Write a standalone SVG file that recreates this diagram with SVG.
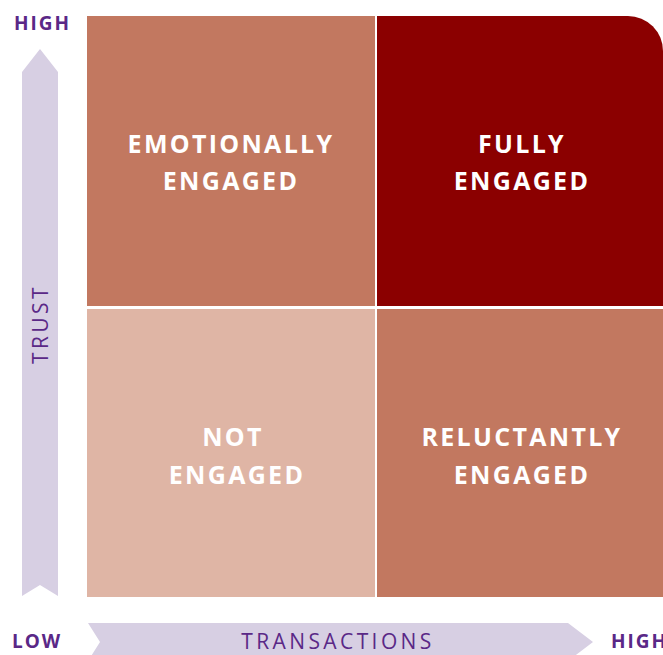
<svg xmlns="http://www.w3.org/2000/svg" width="663" height="655" viewBox="0 0 663 655">
  <style>
    .axis { fill: #d7cfe3; }
    .end { font-family: "Open Sans", "Liberation Sans", sans-serif; font-weight: 700; font-size: 19px; fill: #5a2887; letter-spacing: 2px; }
    .axislabel { font-family: "Open Sans", "Liberation Sans", sans-serif; font-weight: 400; font-size: 21px; fill: #5a2887; letter-spacing: 3.4px; text-anchor: middle; }
    .quad { font-family: "Open Sans", "Liberation Sans", sans-serif; font-weight: 700; font-size: 25px; fill: #ffffff; text-anchor: middle; letter-spacing: 2.3px; }
  </style>

  <!-- axis arrows -->
  <g id="trust-axis">
    <polygon class="axis" points="22,72 40,49 58,72 58,596 40,585 22,596"/>
    <text class="axislabel" transform="translate(48,324) rotate(-90)">TRUST</text>
  </g>
  <g id="transactions-axis">
    <polygon class="axis" points="88,623 568,623 593,642 568,661 88,661 100,642"/>
    <text class="axislabel" x="338" y="649">TRANSACTIONS</text>
  </g>

  <!-- axis end labels -->
  <text class="end" x="14" y="30">HIGH</text>
  <text class="end" x="12" y="648">LOW</text>
  <text class="end" x="611" y="648">HIGH</text>

  <!-- quadrants -->
  <g id="emotionally-engaged">
    <rect x="87" y="16" width="288" height="290" fill="#c27860"/>
    <text class="quad" x="231" y="153">EMOTIONALLY</text>
    <text class="quad" x="231" y="190">ENGAGED</text>
  </g>
  <g id="fully-engaged">
    <path d="M377,16 H628 A35,35 0 0 1 663,51 V306 H377 Z" fill="#8b0000"/>
    <text class="quad" x="522" y="153">FULLY</text>
    <text class="quad" x="522" y="190">ENGAGED</text>
  </g>
  <g id="not-engaged">
    <rect x="87" y="309" width="288" height="288" fill="#dfb5a5"/>
    <text class="quad" x="233" y="446">NOT</text>
    <text class="quad" x="237" y="484">ENGAGED</text>
  </g>
  <g id="reluctantly-engaged">
    <rect x="377" y="309" width="286" height="288" fill="#c27860"/>
    <text class="quad" x="522" y="446">RELUCTANTLY</text>
    <text class="quad" x="522" y="484">ENGAGED</text>
  </g>
</svg>
